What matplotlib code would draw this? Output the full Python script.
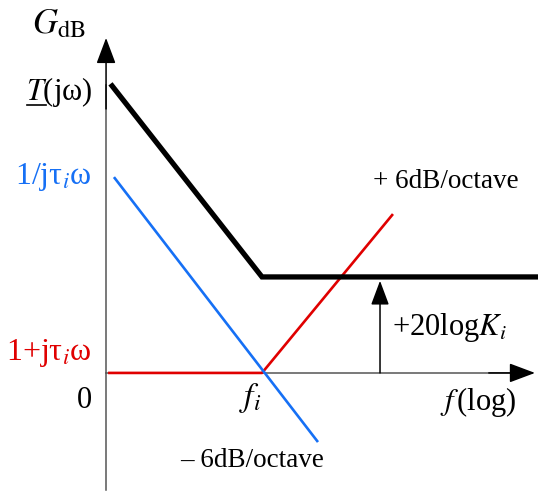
import matplotlib
matplotlib.use("Agg")
import matplotlib.pyplot as plt

plt.rcParams["font.family"] = ["Liberation Serif", "DejaVu Serif"]
plt.rcParams["mathtext.fontset"] = "stix"

# frequencies normalised to f_i, gains in dB (K_i = 10 -> +20 dB)
k_db = 20
t_f = [0.0104, 1, 4500]
t_db = [59.8, k_db, k_db]
int_f = [0.011, 5.5]
int_db = [40.8, -14.4]
lead_f = [0.0092, 1, 54]
lead_db = [0, 0, 33.1]
k_arrow_f = 36.4

blue = "#1670f5"
red = "#e00000"
axis_col = "#555555"

fig = plt.figure(figsize=(5.38, 4.91), dpi=100)
ax = fig.add_axes([0, 0, 1, 1])
ax.set_xscale("log")
ax.set_xlim(3.42e-4, 4477)
ax.set_ylim(-24.6, 77.7)
ax.axis("off")

# axes with arrow heads
ax.plot([0.00865, 0.00865], [-24.4, 60], color=axis_col, lw=1.1)
ax.annotate("", xy=(0.00865, 69.8), xytext=(0.00865, 55),
            arrowprops=dict(arrowstyle="-|>,head_length=0.8,head_width=0.3",
                            color="black", lw=1.1, mutation_scale=20,
                            shrinkA=0, shrinkB=0))
ax.plot([0.00865, 2000], [0, 0], color=axis_col, lw=1.1)
ax.annotate("", xy=(4085, 0), xytext=(1000, 0),
            arrowprops=dict(arrowstyle="-|>,head_length=0.8,head_width=0.3",
                            color="black", lw=1.1, mutation_scale=20,
                            shrinkA=0, shrinkB=0))

# asymptotes
ax.plot(lead_f, lead_db, color=red, lw=1.9, solid_capstyle="butt")
ax.plot(int_f, int_db, color=blue, lw=1.9, solid_capstyle="butt")
ax.plot(t_f, t_db, color="black", lw=3.8, solid_joinstyle="miter")

# gain offset arrow
ax.annotate("", xy=(k_arrow_f, k_db - 0.8), xytext=(k_arrow_f, 0),
            arrowprops=dict(arrowstyle="-|>,head_length=0.75,head_width=0.28",
                            color="black", lw=1.1, mutation_scale=20,
                            shrinkA=0, shrinkB=0))

fs = 22
ax.text(9.08e-4, 70.8, r"$G_{\mathrm{dB}}$", fontsize=fs + 3, va="baseline")
t_lab = ax.text(5.64e-3, 56.9, r"$T$(jω)", fontsize=fs, ha="right", va="baseline")
ax.text(5.64e-3, 39.4, r"1/jτ$_i$ω", fontsize=fs + 1, ha="right", va="baseline", color=blue)
ax.text(5.64e-3, 2.7, r"1+jτ$_i$ω", fontsize=fs + 1, ha="right", va="baseline", color=red)
ax.text(5.64e-3, -7.3, "0", fontsize=fs, ha="right", va="baseline")
ax.text(0.694, -6.9, r"$f_i$", fontsize=fs + 2, ha="center", va="baseline")
ax.text(226, -7.7, r"$f\,$(log)", fontsize=fs, va="baseline")
ax.text(52.4, 7.9, r"+20log$K_i$", fontsize=fs, va="baseline")
ax.text(29.4, 38.5, "+ 6dB/octave", fontsize=19.5, va="baseline")
ax.text(0.0822, -19.6, "– 6dB/octave", fontsize=19.5, va="baseline")

# underline the T of T(jω) (mathtext has no \underline)
fig.canvas.draw()
r = fig.canvas.get_renderer()
bb = t_lab.get_window_extent(r)
t_only = ax.text(0, 0, r"$T$", fontsize=fs, transform=None)
tw = t_only.get_window_extent(r).width
t_only.remove()
inv = ax.transData.inverted()
y_base = ax.transData.transform((1, 56.9))[1]
x0, y0 = inv.transform((bb.x0 + 1, y_base - 5))
x1, _ = inv.transform((bb.x0 + tw - 1, y_base - 5))
ax.plot([x0, x1], [y0, y0], color="black", lw=1.2)

fig.savefig("out.png", dpi=100)
